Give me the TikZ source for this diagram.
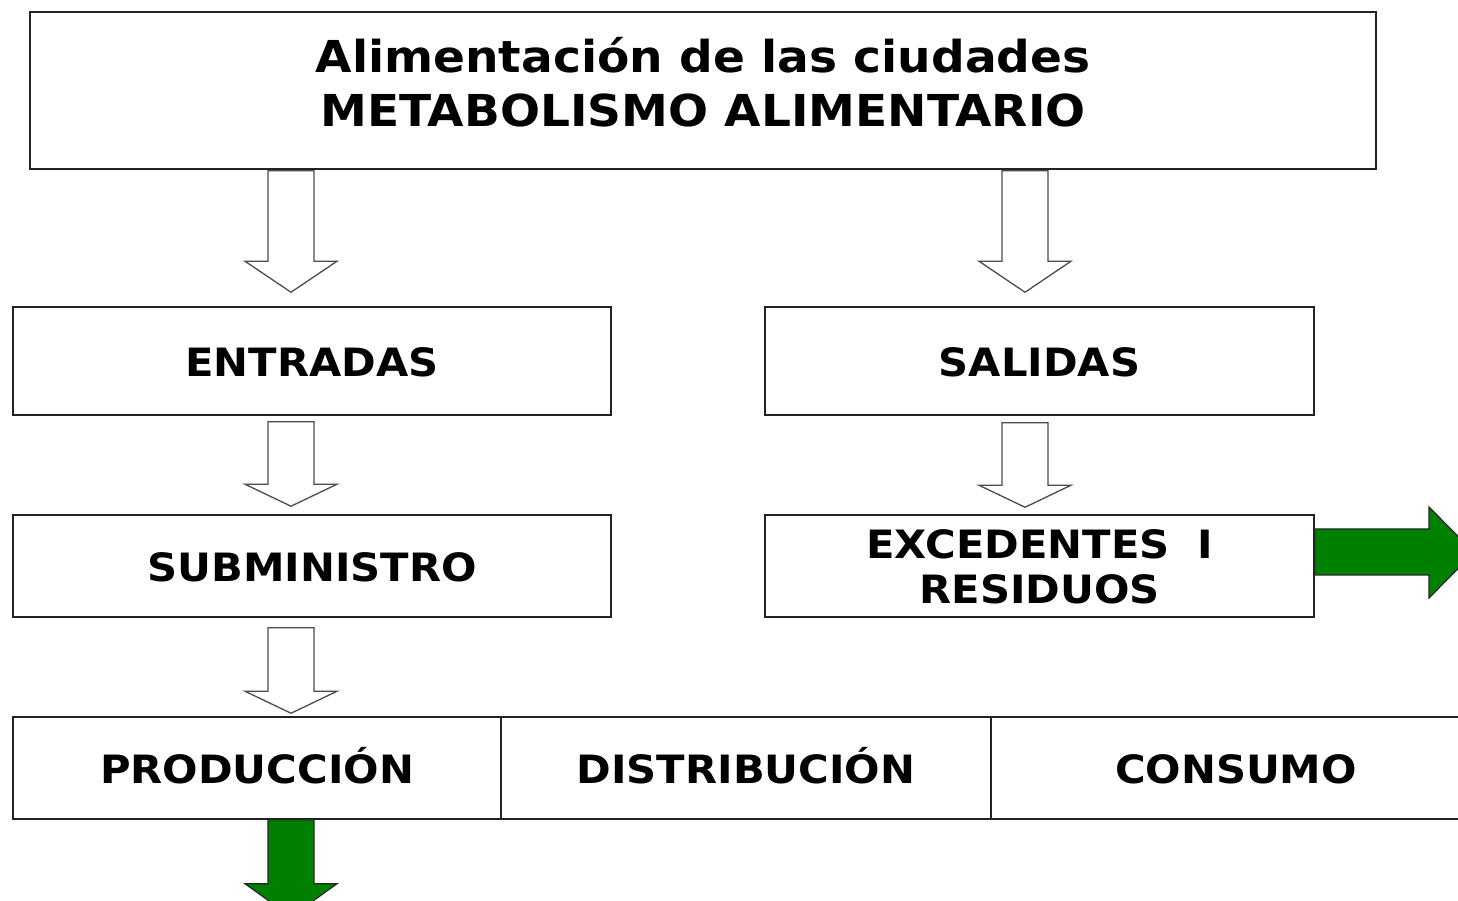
\documentclass[tikz,border=0pt]{standalone}
\usepackage{fontspec}
\setmainfont{DejaVu Sans}[FakeStretch=1.07]
\usetikzlibrary{calc}
\definecolor{arrgreen}{RGB}{0,128,0}
\definecolor{boxline}{RGB}{35,35,35}
% #1 style, #2 x, #3 from anchor, #4 gap below it, #5 to anchor, #6 gap above it, #7 head length
\newcommand\blockdown[7]{%
  \draw[#1] let \p1=(#3), \p2=(#5) in
    (#2pt-23pt,\y1-#4pt) -- (#2pt+23pt,\y1-#4pt) -- (#2pt+23pt,\y2+#6pt+#7pt) -- (#2pt+46pt,\y2+#6pt+#7pt)
    -- (#2pt,\y2+#6pt) -- (#2pt-46pt,\y2+#6pt+#7pt) -- (#2pt-23pt,\y2+#6pt+#7pt) -- cycle;}
\begin{document}
\begin{tikzpicture}[x=1pt,y=1pt,
  box/.style={draw=boxline, line width=1.5pt, rectangle, inner sep=0pt, fill=white, align=center,
              font=\bfseries\fontsize{39}{45}\selectfont},
  oneline/.style={text height=32pt, text depth=0pt},
  hollow/.style={draw=black!70, line width=1.3pt, fill=white, line join=miter},
  greenarr/.style={fill=arrgreen, draw=black!85, line width=1.2pt, line join=miter}]
\useasboundingbox (0,0) rectangle (1458,901);
\fill[white] (0,0) rectangle (1458,901);
\clip (0,0) rectangle (1458,901);

% boxes
\node[box, minimum width=1346pt, minimum height=157pt, text height=73pt, text depth=0pt,
      font=\bfseries\fontsize{44}{54}\selectfont] (title) at (703,810.5)
      {Alimentación de las ciudades\\METABOLISMO ALIMENTARIO};
\node[box, oneline, minimum width=598pt, minimum height=108pt] (entradas) at (312,540) {ENTRADAS};
\node[box, oneline, minimum width=598pt, minimum height=102pt] (sumin) at (312,335) {SUBMINISTRO};
\node[box, oneline, minimum width=549pt, minimum height=108pt] (salidas) at (1039.5,540) {SALIDAS};
\node[box, minimum width=549pt, minimum height=102pt, text height=75pt, text depth=0pt] (exced) at (1039.5,335)
      {EXCEDENTES\hspace{0.7em}I\\RESIDUOS};
\node[box, oneline, minimum width=488pt, minimum height=102pt] (prod) at (257,133) {PRODUCCIÓN};
\node[box, oneline, minimum width=490pt, minimum height=102pt] (dist) at (746,133) {DISTRIBUCIÓN};
\node[box, oneline, minimum width=490pt, minimum height=102pt] (cons) at (1236,133) {CONSUMO};

% hollow block arrows
\blockdown{hollow}{291}{title.south}{1}{entradas.north}{14}{31}
\blockdown{hollow}{291}{entradas.south}{6}{sumin.north}{8}{22}
\blockdown{hollow}{291}{sumin.south}{10}{prod.north}{3}{22}
\blockdown{hollow}{1025}{title.south}{1}{salidas.north}{14}{31}
\blockdown{hollow}{1025}{salidas.south}{7}{exced.north}{7}{22}

% green arrows
\draw[greenarr] let \p1=(prod.south) in
  (268,\y1) -- (314,\y1) -- (314,\y1-64pt) -- (337,\y1-64pt) -- (291,\y1-97pt)
  -- (245,\y1-64pt) -- (268,\y1-64pt) -- cycle;
\draw[greenarr] let \p1=(exced.east) in
  (\x1,372) -- (1429,372) -- (1429,394) -- (1474,348.5) -- (1429,303)
  -- (1429,326) -- (\x1,326) -- cycle;
\end{tikzpicture}
\end{document}
